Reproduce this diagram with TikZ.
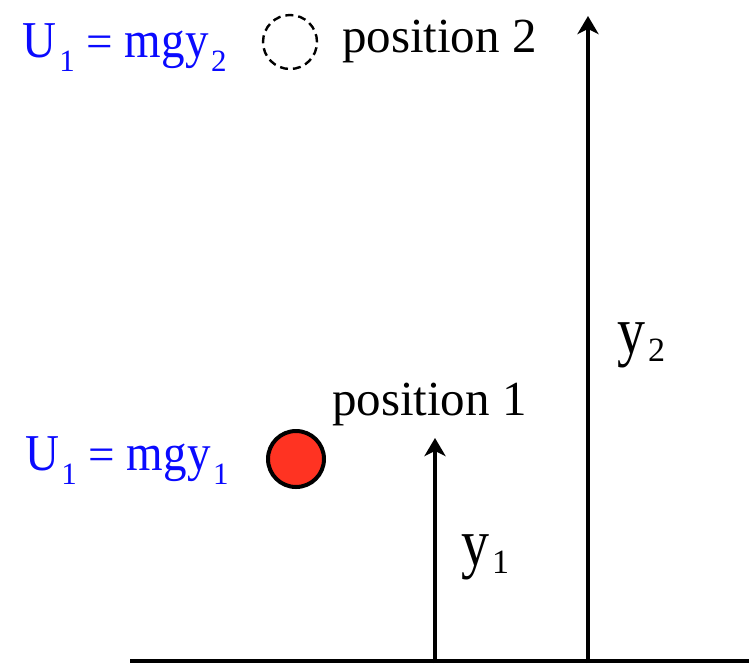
\documentclass[tikz,border=0pt]{standalone}
\usepackage{fontspec}
\setmainfont{Liberation Serif}
\newfontfamily\tnr{Liberation Serif}
\usetikzlibrary{arrows.meta}
\definecolor{ballred}{RGB}{255,51,34}
\definecolor{eqblue}{RGB}{10,10,255}
\newcommand\mysub[2]{\kern2.5pt\raisebox{#1}{\tnr\fontsize{31}{31}\selectfont #2}}
\newcommand\ylab[1]{\scalebox{1}[1.2]{\tnr\fontsize{56}{56}\selectfont y}\kern3pt\raisebox{-8pt}{\tnr\fontsize{34}{34}\selectfont #1}}
\begin{document}
\begin{tikzpicture}[x=1pt,y=-1pt,
  every node/.style={inner sep=0pt, outer sep=0pt},
  txt/.style={anchor=base west, font=\tnr\fontsize{49}{50}\selectfont},
  eq/.style={anchor=base west, text=eqblue, font=\tnr\fontsize{47}{50}\selectfont},
  heightarrow/.style={line width=4pt, -{Stealth[length=18pt,width=21pt,inset=5pt]}},
  ground/.style={line width=3.5pt},
  ball/.style={circle, draw, line width=4pt, fill=ballred, minimum size=56pt},
  ghost/.style={circle, draw, line width=2.4pt, dash pattern=on 8pt off 5pt, minimum size=54pt}]
\useasboundingbox (0,0) rectangle (749,665);
% ground
\coordinate (g0) at (130,661);
\coordinate (g1) at (749,661);
\draw[ground] (g0) -- (g1);
% arrows
\coordinate (a1b) at (435,663);
\coordinate (a1t) at (435,438);
\coordinate (a2b) at (588,663);
\coordinate (a2t) at (588,16);
\draw[heightarrow] (a1b) -- (a1t);
\draw[heightarrow] (a2b) -- (a2t);
% balls
\node[ball] (ball1) at (296,459) {};
\node[ghost] (ball2) at (290,42) {};
% labels
\node[txt] (pos1) at (332,415) {position 1};
\node[txt] (pos2) at (342,52) {position 2};
\node[eq] (eq2) at (23,57) {\scalebox{1}[1.1]{U}\mysub{-14pt}{1} = \scalebox{1}[1.1]{mgy}\mysub{-14pt}{2}};
\node[eq] (eq1) at (25,470) {\scalebox{1}[1.1]{U}\mysub{-14pt}{1} = \scalebox{1}[1.1]{mgy}\mysub{-14pt}{1}};
\node[anchor=base west] (y1) at (461,565) {\ylab{1}};
\node[anchor=base west] (y2) at (617,353) {\ylab{2}};
\end{tikzpicture}
\end{document}
